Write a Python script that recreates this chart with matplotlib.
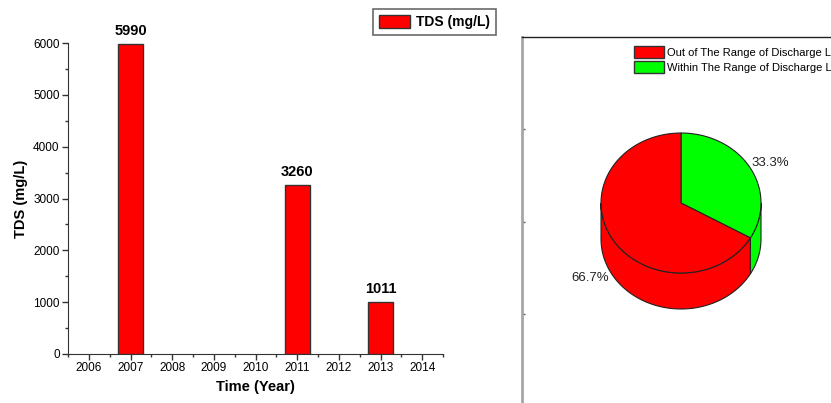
import numpy as np
import matplotlib.pyplot as plt
from matplotlib.patches import Polygon

plt.rcParams['font.family'] = ['Liberation Sans', 'DejaVu Sans']

# data
years = [2006, 2007, 2008, 2009, 2010, 2011, 2012, 2013, 2014]
tds_years = [2007, 2011, 2013]
tds_values = [5990, 3260, 1011]
tds_labels = ['5990', '3260', '1011']

pie_labels = ['Out of The Range of Discharge Limits',
              'Within The Range of Discharge Limits']
pie_values = [66.7, 33.3]
pie_colors = ['#ff0000', '#00ff00']
pie_texts = ['66.7%', '33.3%']

W, H = 831, 403
fig = plt.figure(figsize=(W / 100, H / 100), dpi=100)

# ---- bar chart ----
ax = fig.add_axes([68 / W, (H - 354) / H, (443 - 68) / W, (354 - 43) / H])
ax.bar(tds_years, tds_values, width=0.6, color='#ff0000', edgecolor='#333333',
       linewidth=1.0, label='TDS (mg/L)', zorder=3)
for x, v, t in zip(tds_years, tds_values, tds_labels):
    ax.text(x, v + 110, t, ha='center', va='bottom', fontsize=10.5,
            fontweight='bold', clip_on=False)

ax.set_xlim(2005.5, 2014.5)
ax.set_ylim(0, 6000)
ax.set_xticks(years)
ax.set_xticks(np.arange(2005.5, 2015, 1.0), minor=True)
ax.set_yticks(range(0, 6001, 1000))
ax.set_yticks(range(500, 6000, 1000), minor=True)
ax.tick_params(axis='both', which='major', labelsize=8.5, length=4,
               width=1, color='#333333', pad=2)
ax.tick_params(axis='both', which='minor', length=2.5, width=1,
               color='#333333')
for s in ['top', 'right']:
    ax.spines[s].set_visible(False)
for s in ['left', 'bottom']:
    ax.spines[s].set_color('#333333')
ax.set_xlabel('Time (Year)', fontsize=10.5, fontweight='bold', labelpad=4)
ax.set_ylabel('TDS (mg/L)', fontsize=10.5, fontweight='bold', labelpad=4)

leg = ax.legend(loc='upper left', bbox_to_anchor=((373 - 68) / 375, 1 + (43 - 9) / 311),
                prop={'weight': 'bold', 'size': 10},
                fancybox=False, edgecolor='#444444', handlelength=2.3,
                handleheight=1.1, borderpad=0.4, handletextpad=0.4,
                borderaxespad=0)
leg.get_frame().set_linewidth(1.2)

# ---- pie panel (data coords = pixels) ----
px0, px1, py0, py1 = 522, 1000, 37, 500
pax = fig.add_axes([px0 / W, (H - py1) / H, (px1 - px0) / W, (py1 - py0) / H])
pax.set_xlim(px0, px1)
pax.set_ylim(py1, py0)
pax.set_xticks([628])
pax.set_yticks([129, 222, 314, 406])
pax.tick_params(labelleft=False, labelbottom=False, direction='in',
                length=2, width=1, color='#555555')
pax.spines['left'].set_color('#a6a6a6')
pax.spines['left'].set_linewidth(2)
pax.spines['top'].set_color('#222222')
pax.spines['top'].set_linewidth(1)
for s in ['right', 'bottom']:
    pax.spines[s].set_visible(False)

cx, cy, rx, ry, depth = 681, 203, 80, 70, 36

def ell(t):
    return cx + rx * np.cos(t), cy - ry * np.sin(t)

# slice angles: start at top, go clockwise (last slice first)
fracs = np.array(pie_values) / sum(pie_values)
ends = 90 - 360 * np.cumsum(fracs[::-1])
starts = np.concatenate([[90], ends[:-1]])
order = list(range(len(pie_values)))[::-1]
angles = {}
for k, i in enumerate(order):
    angles[i] = (ends[k], starts[k])

# side walls (visible part: 180..360 deg)
for i, (a0, a1) in angles.items():
    for lo, hi in [(a0, a1), (a0 + 360, a1 + 360), (a0 - 360, a1 - 360)]:
        l, h = max(lo, 180), min(hi, 360)
        if l >= h:
            continue
        t = np.radians(np.linspace(l, h, 80))
        xs, ys = ell(t)
        pts = np.column_stack([np.concatenate([xs, xs[::-1]]),
                               np.concatenate([ys, ys[::-1] + depth])])
        pax.add_patch(Polygon(pts, closed=True, facecolor=pie_colors[i],
                              edgecolor='#222222', linewidth=0.8, zorder=2))

# top face
for i, (a0, a1) in angles.items():
    t = np.radians(np.linspace(a0, a1, 120))
    xs, ys = ell(t)
    pts = np.column_stack([np.concatenate([[cx], xs]),
                           np.concatenate([[cy], ys])])
    pax.add_patch(Polygon(pts, closed=True, facecolor=pie_colors[i],
                          edgecolor='#222222', linewidth=0.8, zorder=3))

# percentage labels
label_pos = [(590, 278), (770, 163)]
for i in range(len(pie_values)):
    pax.text(*label_pos[i], pie_texts[i], fontsize=9.5, ha='center',
             va='center', color='#222222')

# legend for pie
handles = [plt.Rectangle((0, 0), 1, 1, facecolor=c, edgecolor='#333333')
           for c in pie_colors]
pleg = pax.legend(handles, pie_labels, loc='upper left',
                  bbox_to_anchor=((634 - px0) / (px1 - px0), 1 - (46 - py0) / (py1 - py0)),
                  frameon=False, handlelength=2.7, handleheight=1.3,
                  handletextpad=0.3, labelspacing=0.25, borderpad=0,
                  borderaxespad=0, prop={'size': 8})

fig.savefig('out.png', dpi=100)
